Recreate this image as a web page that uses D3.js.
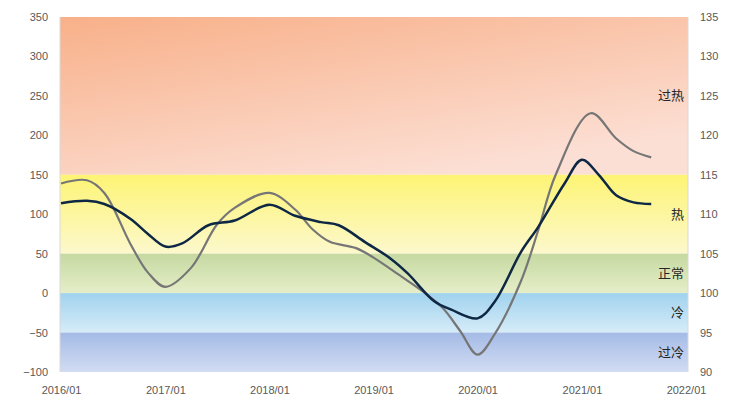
<!DOCTYPE html>
<html>
<head>
<meta charset="utf-8">
<script src="https://cdn.jsdelivr.net/npm/d3@7"></script>
<style>
  body { margin: 0; background: #fff; }
  svg { display: block; }
</style>
</head>
<body>
<div id="chart"></div>
<script>
// left axis (index) and right axis (ratio) ticks
const leftTicks = [-100, -50, 0, 50, 100, 150, 200, 250, 300, 350];
const rightTicks = [90, 95, 100, 105, 110, 115, 120, 125, 130, 135];
const xTickLabels = ["2016/01", "2017/01", "2018/01", "2019/01", "2020/01", "2021/01", "2022/01"];

// zones, in left axis units
const zoneNames = ["过热", "热", "正常", "冷", "过冷"];
const zoneLow = [150, 50, 0, -50, -100];
const zoneHigh = [350, 150, 50, 0, -50];
const zoneTop = ["#f8b089", "#fdf474", "#c5d9a1", "#a0d2ee", "#a4bbe6"];
const zoneBottom = ["#fcdfd4", "#fcf8cc", "#e6eec8", "#d6ecf8", "#d2dcf2"];

// grey series (left axis)
const grayDates = ["2016/01", "2016/04", "2016/06", "2016/09", "2016/11", "2017/01", "2017/04", "2017/07",
  "2017/09", "2018/01", "2018/04", "2018/06", "2018/08", "2018/11", "2019/01", "2019/04", "2019/07",
  "2019/09", "2019/11", "2020/01", "2020/03", "2020/06", "2020/08", "2020/10", "2021/02", "2021/05",
  "2021/07", "2021/09"];
const grayValues = [139, 143, 127, 62, 26, 8, 32, 87, 108, 127, 106, 81, 65, 57, 45, 23, 0,
  -19, -48, -78, -52, 15, 80, 150, 228, 196, 180, 172];

// navy series (right axis)
const navyDates = ["2016/01", "2016/04", "2016/06", "2016/09", "2016/11", "2017/01", "2017/03", "2017/06",
  "2017/09", "2018/01", "2018/04", "2018/07", "2018/09", "2018/12", "2019/03", "2019/05", "2019/08",
  "2019/10", "2020/01", "2020/03", "2020/06", "2020/08", "2020/11", "2021/01", "2021/03", "2021/05",
  "2021/07", "2021/09"];
const navyValues = [111.4, 111.7, 111.3, 109.4, 107.5, 105.9, 106.3, 108.6, 109.2, 111.2, 109.8, 109.0,
  108.6, 106.5, 104.4, 102.5, 99.0, 97.9, 96.8, 98.9, 105.2, 108.4, 113.9, 116.9, 115.0, 112.4,
  111.5, 111.3];

const W = 744, H = 399;
const margin = { top: 17, right: 56, bottom: 27, left: 60 };
const parse = d3.timeParse("%Y/%m");

const svg = d3.select("#chart").append("svg")
  .attr("width", W).attr("height", H)
  .style("font-family", "'Liberation Sans', 'DejaVu Sans', sans-serif");

const x = d3.scaleTime()
  .domain([parse("2016/01"), parse("2022/01")])
  .range([margin.left + 1, W - margin.right - 2]);
const yL = d3.scaleLinear().domain([-100, 350]).range([H - margin.bottom, margin.top]);
const yR = d3.scaleLinear().domain([90, 135]).range([H - margin.bottom, margin.top]);

// background zone gradients
const defs = svg.append("defs");
zoneNames.forEach((n, i) => {
  const g = defs.append("linearGradient").attr("id", "zone" + i)
    .attr("x1", 0).attr("y1", 0).attr("x2", i === 0 ? 0.6 : 0).attr("y2", 1);
  g.append("stop").attr("offset", "0%").attr("stop-color", zoneTop[i]);
  g.append("stop").attr("offset", "100%").attr("stop-color", zoneBottom[i]);
});

const plotL = margin.left, plotR = W - margin.right;
svg.append("g").selectAll("rect")
  .data(zoneNames)
  .join("rect")
  .attr("x", plotL)
  .attr("width", plotR - plotL)
  .attr("y", (d, i) => yL(zoneHigh[i]))
  .attr("height", (d, i) => yL(zoneLow[i]) - yL(zoneHigh[i]))
  .attr("fill", (d, i) => `url(#zone${i})`);

// frame lines on both sides
svg.append("line").attr("x1", plotL).attr("x2", plotL)
  .attr("y1", yL(350)).attr("y2", yL(-100)).attr("stroke", "#d9d9d9");
svg.append("line").attr("x1", plotR).attr("x2", plotR)
  .attr("y1", yL(350)).attr("y2", yL(-100)).attr("stroke", "#d9d9d9");

// zone labels
svg.append("g").selectAll("text")
  .data(zoneNames)
  .join("text")
  .attr("x", plotR - 4)
  .attr("y", (d, i) => yL((zoneLow[i] + zoneHigh[i]) / 2))
  .attr("dy", "0.35em")
  .attr("text-anchor", "end")
  .style("font-family", "'Noto Sans CJK SC', sans-serif")
  .style("font-size", "13px")
  .attr("fill", "#262626")
  .text((d) => d);

// lines
const grayLine = d3.line()
  .curve(d3.curveCatmullRom.alpha(0.5))
  .x((d, i) => x(parse(grayDates[i])))
  .y((d) => yL(d));
const navyLine = d3.line()
  .curve(d3.curveCatmullRom.alpha(0.5))
  .x((d, i) => x(parse(navyDates[i])))
  .y((d) => yR(d));

svg.append("path").datum(grayValues)
  .attr("fill", "none").attr("stroke", "#767676").attr("stroke-width", 2.2)
  .attr("stroke-linejoin", "round").attr("d", grayLine);
svg.append("path").datum(navyValues)
  .attr("fill", "none").attr("stroke", "#0e2744").attr("stroke-width", 2.5)
  .attr("stroke-linejoin", "round").attr("d", navyLine);

// axes
const styleAxis = (g) => {
  g.select(".domain").remove();
  g.selectAll(".tick line").remove();
  g.selectAll(".tick text").attr("fill", "#595959").style("font-size", "11px");
};
svg.append("g").attr("transform", `translate(${plotL - 9},0)`)
  .call(d3.axisLeft(yL).tickValues(leftTicks).tickSize(0))
  .call(styleAxis);
svg.append("g").attr("transform", `translate(${plotR + 9},0)`)
  .call(d3.axisRight(yR).tickValues(rightTicks).tickSize(0))
  .call(styleAxis);
svg.append("g").attr("transform", `translate(0,${H - margin.bottom + 11})`)
  .call(d3.axisBottom(x).tickValues(xTickLabels.map(parse)).tickFormat(d3.timeFormat("%Y/%m")).tickSize(0))
  .call(styleAxis);
</script>
</body>
</html>
